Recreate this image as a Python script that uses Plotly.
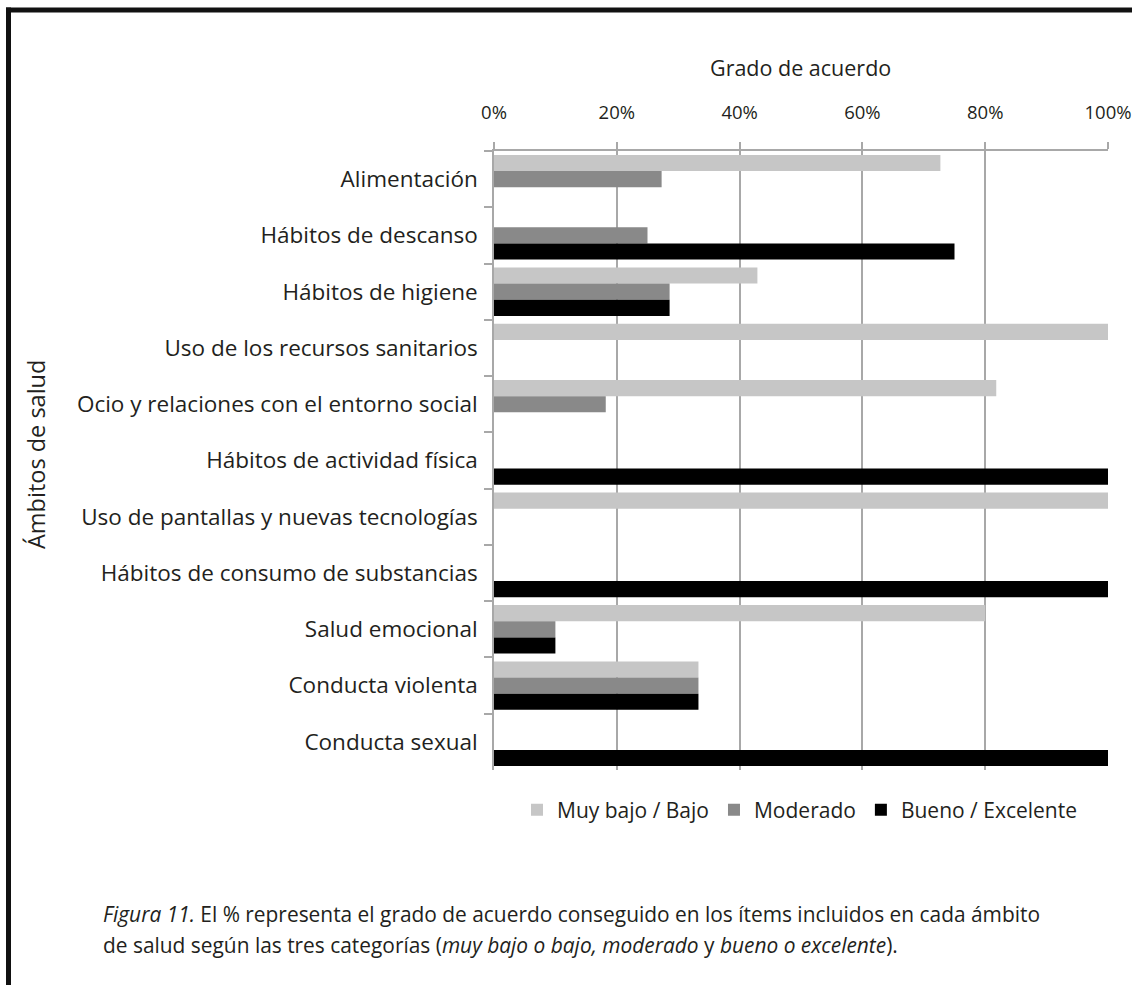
import plotly.graph_objects as go

# Health domains and the percentage of agreement reached in each rating band
ambitos = [
    "Alimentación",
    "Hábitos de descanso",
    "Hábitos de higiene",
    "Uso de los recursos sanitarios",
    "Ocio y relaciones con el entorno social",
    "Hábitos de actividad física",
    "Uso de pantallas y nuevas tecnologías",
    "Hábitos de consumo de substancias",
    "Salud emocional",
    "Conducta violenta",
    "Conducta sexual",
]
muy_bajo_bajo = [72.7, 0, 42.9, 100, 81.8, 0, 100, 0, 80, 33.3, 0]
moderado = [27.3, 25, 28.6, 0, 18.2, 0, 0, 0, 10, 33.3, 0]
bueno_excelente = [0, 75, 28.6, 0, 0, 100, 0, 100, 10, 33.3, 100]

series_names = ["Muy bajo / Bajo", "Moderado", "Bueno / Excelente"]
series_colors = ["#C6C6C6", "#898989", "#000000"]

W, H = 1132, 985
FONT = "Open Sans"
TXT = "#231F20"


def px_x(x):
    return x / W


def px_y(y):
    return 1 - y / H


fig = go.Figure()
for name, vals, col in zip(series_names, [muy_bajo_bajo, moderado, bueno_excelente], series_colors):
    fig.add_trace(go.Bar(
        y=ambitos, x=vals, name=name, orientation="h",
        marker=dict(color=col, line=dict(width=0)),
    ))

fig.update_layout(
    width=W, height=H,
    margin=dict(l=0, r=0, t=0, b=0, autoexpand=False),
    paper_bgcolor="white", plot_bgcolor="white",
    barmode="group", bargap=0.14, bargroupgap=0,
    font=dict(family=FONT, color=TXT),
    showlegend=True,
    legend=dict(
        orientation="h", x=px_x(800), y=px_y(810),
        xanchor="center", yanchor="middle",
        font=dict(size=21, color=TXT),
        traceorder="normal", itemwidth=30,
    ),
    xaxis=dict(
        domain=[px_x(494), px_x(1108)],
        side="top", range=[0, 100], automargin=False,
        tickvals=[0, 20, 40, 60, 80, 100],
        ticktext=["0%", "20%", "40%", "60%", "80%", "100%"],
        tickfont=dict(size=18.5, color=TXT),
        showgrid=True, gridcolor="#A8A8A8", gridwidth=1.5,
        showline=True, linecolor="#A8A8A8", linewidth=1.5,
        ticks="outside", ticklen=7, tickcolor="#A8A8A8", tickwidth=1.5,
        zeroline=False, fixedrange=True,
        ticklabelstandoff=16,
    ),
    yaxis=dict(
        domain=[px_y(770), px_y(151)],
        autorange="reversed", automargin=False,
        tickfont=dict(size=22.5, color=TXT),
        showline=True, linecolor="#A8A8A8", linewidth=1.5,
        ticks="outside", ticklen=8, tickcolor="#A8A8A8", tickwidth=1.5,
        tickson="boundaries", showgrid=False,
        ticklabelstandoff=10,
    ),
    annotations=[
        dict(text="Grado de acuerdo", x=px_x(800), y=px_y(68), xref="paper", yref="paper",
             showarrow=False, font=dict(size=21.5, color=TXT), xanchor="center", yanchor="middle"),
        dict(text="Ámbitos de salud", x=px_x(36), y=px_y(455), xref="paper", yref="paper",
             showarrow=False, textangle=-90, font=dict(size=23.5, color=TXT),
             xanchor="center", yanchor="middle"),
        dict(text="<i>Figura 11.</i> El % representa el grado de acuerdo conseguido en los ítems incluidos en cada ámbito",
             x=px_x(101), y=px_y(914), xref="paper", yref="paper", showarrow=False,
             font=dict(size=20.9, color=TXT), xanchor="left", yanchor="middle"),
        dict(text="de salud según las tres categorías (<i>muy bajo o bajo, moderado</i> y <i>bueno o excelente</i>).",
             x=px_x(101), y=px_y(945), xref="paper", yref="paper", showarrow=False,
             font=dict(size=20.9, color=TXT), xanchor="left", yanchor="middle"),
    ],
    shapes=[
        dict(type="line", xref="paper", yref="paper", x0=px_x(8.5), x1=px_x(8.5),
             y0=0, y1=px_y(7.5), line=dict(color="#111111", width=5)),
        dict(type="line", xref="paper", yref="paper", x0=px_x(6), x1=1,
             y0=px_y(10), y1=px_y(10), line=dict(color="#111111", width=5)),
    ],
)

fig.write_html(
    "out.html",
    post_script="document.body.style.margin='0';document.body.style.overflow='hidden';",
)
